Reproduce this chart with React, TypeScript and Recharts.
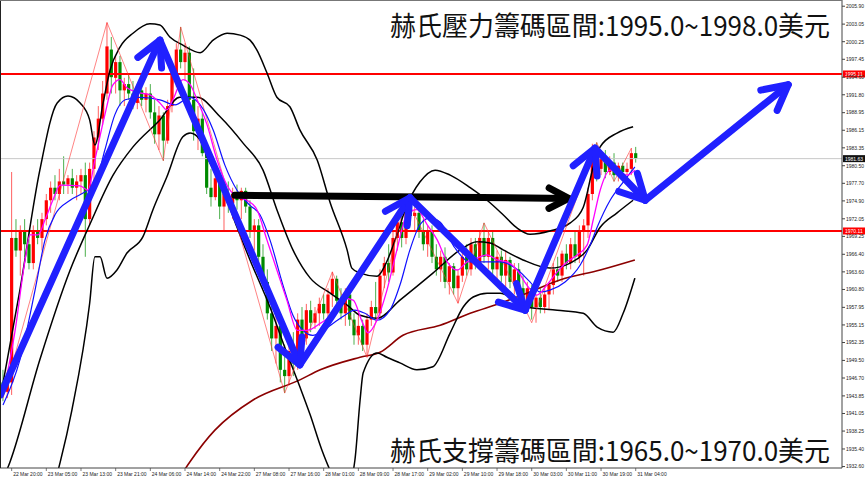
import React from "react"
import { ComposedChart, Bar, Line, XAxis, YAxis, ReferenceLine } from "recharts"

// H1 candles, one row per bar: [open, high, low, close]
const candles: number[][] = [
  [1946, 1948, 1943, 1944.5], [1944.5, 1948, 1943.5, 1946], [1946, 1979.5, 1944, 1969], [1969, 1972, 1966, 1967],
  [1967, 1971, 1963, 1970], [1970, 1972, 1966, 1968], [1968, 1970, 1964, 1965], [1965, 1971, 1964, 1970],
  [1970, 1972, 1968, 1969], [1969, 1973, 1967, 1972], [1972, 1976, 1971, 1975], [1975, 1978, 1973, 1977],
  [1977, 1979, 1975, 1976], [1976, 1980, 1975, 1978], [1978, 1982, 1976, 1977.5], [1977.5, 1979, 1976, 1978.5],
  [1978.5, 1980, 1976, 1977], [1977, 1979, 1975, 1978], [1978, 1980, 1976, 1979], [1979, 1981, 1966, 1972],
  [1972, 1981, 1971, 1980], [1980, 1986, 1978, 1985], [1985, 1990, 1983, 1988], [1988, 1994, 1987, 1992],
  [1992, 2003.3, 1991, 1999.5], [1999, 2001, 1992, 1994.6], [1994.5, 1998, 1992, 1997], [1997, 1998, 1990, 1992.5],
  [1992.5, 1994.5, 1990, 1993.5], [1993.5, 1995, 1991, 1992], [1992, 1994, 1989.5, 1990.5], [1990.5, 1993.5, 1989.5, 1992.5],
  [1992.5, 1994, 1990, 1991], [1991, 1993, 1989, 1992], [1992, 1993.5, 1988, 1989], [1989, 1991, 1984, 1985.5],
  [1985.5, 1990, 1983, 1988.5], [1988.5, 1989, 1981.3, 1984.5], [1984.5, 1991, 1984, 1990], [1990, 1996, 1989, 1995],
  [1995, 2000, 1993, 1999], [1999, 2002.6, 1996, 1997], [1997, 2000, 1994, 1998.5], [1998.5, 1999.5, 1990, 1991],
  [1991, 1996, 1984.5, 1986], [1986, 1990, 1983, 1988], [1988, 1989, 1982, 1982.5], [1982.5, 1984, 1976, 1977],
  [1977, 1980, 1974, 1975.5], [1975.5, 1979, 1975, 1978.5], [1978.5, 1979, 1972, 1974], [1974, 1977, 1970, 1976],
  [1976, 1978, 1973, 1974.5], [1974.5, 1977, 1972, 1976], [1976, 1977.5, 1973.5, 1975], [1975, 1977, 1972, 1976.5],
  [1976.5, 1977, 1973, 1974], [1974, 1975, 1969, 1970], [1970, 1972, 1967, 1971], [1971, 1972, 1965, 1966],
  [1966, 1968, 1961, 1962], [1962, 1964, 1956, 1957], [1957, 1959, 1951, 1953], [1953, 1957, 1949, 1955],
  [1955, 1956, 1946, 1948], [1948, 1952, 1944.3, 1947], [1947, 1953, 1945.5, 1951], [1951, 1954, 1947, 1949],
  [1949, 1957, 1948, 1956], [1956, 1958, 1952, 1953], [1953, 1958.5, 1952, 1957.5], [1957.5, 1959, 1954, 1955.5],
  [1955.5, 1958, 1954.5, 1957], [1957, 1959.5, 1955, 1958.5], [1958.5, 1960, 1956, 1957], [1957, 1961, 1956, 1960],
  [1960, 1963.6, 1958, 1962.5], [1962.5, 1963, 1958, 1959], [1959, 1961, 1956, 1957], [1957, 1961, 1955, 1960],
  [1960, 1961, 1955, 1956], [1956, 1957, 1952, 1953.5], [1953.5, 1957, 1952, 1955], [1955, 1956, 1951, 1952],
  [1952, 1957, 1950, 1956], [1956, 1959, 1955, 1958], [1958, 1962, 1956, 1957], [1957, 1964, 1956, 1963],
  [1963, 1966, 1961, 1965], [1965, 1968, 1962, 1963.5], [1963.5, 1970, 1963, 1969], [1969, 1973, 1967, 1971.5],
  [1971.5, 1972.5, 1967.5, 1969], [1969, 1975.5, 1968, 1974], [1974, 1975, 1971, 1972.5], [1972.5, 1974, 1970, 1973],
  [1973, 1973.5, 1969, 1970], [1970, 1972, 1967, 1968], [1968, 1971, 1966, 1970], [1970, 1971, 1965, 1966],
  [1966, 1968, 1963, 1964], [1964, 1967, 1962, 1966], [1966, 1967.5, 1961, 1962], [1962, 1965, 1960, 1964.5],
  [1964.5, 1965, 1960, 1961], [1961, 1964, 1958.6, 1963], [1963, 1967, 1962, 1966], [1966, 1968, 1963, 1964],
  [1964, 1969, 1963, 1968], [1968, 1969, 1964, 1965], [1965, 1970, 1964, 1969], [1969, 1971.4, 1965, 1966],
  [1966, 1970, 1964, 1969], [1969, 1970, 1963, 1964], [1964, 1967, 1962, 1966], [1966, 1967, 1962, 1963],
  [1963, 1967, 1961, 1965.5], [1965.5, 1966, 1961, 1962], [1962, 1965, 1960, 1964], [1964, 1965, 1960, 1961],
  [1961, 1963, 1958, 1959], [1959, 1962, 1958, 1961], [1961, 1961.5, 1956, 1958], [1958, 1960, 1955.5, 1959.5],
  [1959.5, 1961, 1957, 1958], [1958, 1961, 1957, 1960], [1960, 1962, 1957.5, 1961.5], [1961.5, 1965, 1960, 1964],
  [1964, 1966, 1962, 1963], [1963, 1967, 1962, 1966.5], [1966.5, 1968, 1964, 1965], [1965, 1969, 1964, 1968],
  [1968, 1970, 1965, 1966], [1966, 1971, 1965, 1970], [1970, 1972, 1963, 1971], [1971, 1977, 1969, 1976],
  [1976, 1984, 1975, 1983], [1983, 1984.2, 1978, 1980], [1980, 1983, 1979, 1982], [1982, 1983, 1978.5, 1979.5],
  [1979.5, 1982, 1979, 1981], [1981, 1982.5, 1978, 1979], [1979, 1981, 1978, 1980.5], [1980.5, 1981, 1978.5, 1979.5],
  [1979.5, 1981, 1979, 1980], [1980, 1983.3, 1979, 1982.5], [1982.5, 1983.5, 1981, 1981.7],
]

// bar index / value pairs
const upperBand = [
  [-0.7, 1943.2], [3.9, 1960.7], [8.5, 1979.8], [12.5, 1990.5], [15, 1991.6], [17.8, 1990.5], [20, 1987.8],
  [21.2, 1983.8], [23.1, 1990.5], [24.7, 1995.7], [27, 1999.4], [30, 2001.6], [33.9, 2003.1], [36.2, 2002.9],
  [38.5, 2001.0], [41.5, 1999.7], [45.5, 1998.5], [48.5, 2000.5], [51.7, 2001.6], [54.7, 2001.3], [57, 2000.5],
  [58.6, 1998.9], [60.9, 1995.3], [63.2, 1991.4], [66.2, 1989.9], [68.5, 1986.2], [72.5, 1981.4], [75.5, 1974.6],
  [79.4, 1967.1], [80.5, 1964.2], [82.4, 1963.4], [86.3, 1962.9], [88.2, 1964.7], [90.5, 1968.7], [93.2, 1974.2],
  [96.2, 1977.9], [99.7, 1979.8], [103.2, 1979.0], [107.8, 1977.0], [111.7, 1975.0], [115.4, 1972.7],
  [118.6, 1970.6], [121.6, 1969.6], [126.2, 1970.1], [130.9, 1971.4], [133.9, 1973.9], [136.2, 1980.3],
  [137.8, 1983.5], [141.7, 1985.7], [145.4, 1986.7],
]
const middleBand = [
  [-0.7, 1929.5], [1.6, 1933.3], [8.5, 1949.6], [15.5, 1963.9], [20, 1971.1], [25.4, 1979.0], [30, 1983.5],
  [36.2, 1987.8], [40.8, 1991.4], [44.8, 1991.4], [50.1, 1988.3], [55.4, 1984.1], [60, 1979.8], [63.2, 1973.5],
  [66.9, 1967.1], [70.9, 1962.6], [75.5, 1960.2], [79.4, 1958.3], [82.4, 1956.7], [86.3, 1956.2], [91.6, 1959.1],
  [99.2, 1963.4], [105.5, 1967.1], [109.4, 1968.4], [112.4, 1968.2], [115.4, 1967.1], [120, 1965.5],
  [126.2, 1964.2], [130.9, 1965.0], [134.8, 1967.1], [137.8, 1970.7], [141.7, 1973.0], [145.4, 1975.0],
]
const lowerBand = [
  [9.7, 1925], [13.2, 1933.3], [15.9, 1941.6], [20, 1958.6], [21.2, 1966.0], [22.4, 1966.0], [24, 1962.6],
  [26.3, 1963.9], [28.6, 1966.6], [32.3, 1969.2], [34.6, 1973.5], [37.8, 1978.7], [41.5, 1985.1], [43.2, 1985.7],
  [45.5, 1984.6], [47.1, 1981.9], [49.4, 1978.7], [51.7, 1975.0], [54, 1970.7], [57, 1965.5], [61.6, 1958.0],
  [65.5, 1950.7], [68.5, 1945.3], [70.9, 1940.8], [73.6, 1935.2], [76.6, 1930.5], [79.4, 1928.9], [81.2, 1933.6],
  [82.4, 1943.2], [83.1, 1947.5], [86.3, 1950.7], [88.6, 1950.0], [91.6, 1949.1], [95.5, 1948.0], [99.2, 1948.5],
  [103.2, 1953.9], [106.2, 1958.0], [108.5, 1959.6], [111.7, 1960.2], [114.7, 1960.2], [120.9, 1958.0],
  [127.9, 1957.5], [133.9, 1957.0], [137.1, 1954.8], [140.8, 1954.0], [143.1, 1957.0], [145.8, 1962.6],
]
const maFast = [
  [0, 1944.0], [2.8, 1954.3], [5.1, 1965.5], [6.2, 1969.5], [8.1, 1969.5], [9.7, 1971.9], [11.5, 1975.0],
  [13.2, 1977.4], [17.8, 1977.3], [19.6, 1976.6], [21.2, 1981.4], [23.5, 1988.6], [25.4, 1993.4], [27, 1994.2],
  [28.6, 1992.9], [31.6, 1992.1], [33.9, 1991.8], [36.2, 1990.5], [37.8, 1989.4], [39.2, 1991.0], [41.5, 1994.2],
  [43.2, 1993.4], [44.8, 1991.0], [47.1, 1987.0], [49.4, 1981.4], [51.7, 1977.4], [54, 1975.5], [56.3, 1975.0],
  [58.6, 1973.5], [60.9, 1968.7], [63.2, 1963.9], [65.5, 1959.1], [67.9, 1954.3], [70.2, 1954.3], [73.2, 1955.4],
  [76.2, 1957.0], [78.5, 1959.4], [80.8, 1959.1], [82.9, 1955.6], [84.2, 1953.9], [86.3, 1955.9], [88.6, 1960.7],
  [90.9, 1967.1], [93.2, 1972.7], [95.5, 1973.5], [97.9, 1971.1], [100.2, 1968.7], [102.5, 1965.2],
  [104.8, 1963.9], [107.1, 1965.2], [109.4, 1965.8], [111.7, 1966.3], [114, 1965.5], [116.3, 1965.2],
  [118.6, 1963.9], [120.9, 1961.5], [123.2, 1959.9], [125.5, 1961.5], [127.9, 1963.6], [130.2, 1965.2],
  [132.5, 1966.3], [134.8, 1967.9], [136.2, 1971.9], [137.8, 1976.6], [140.1, 1979.8], [142.4, 1979.5],
  [144, 1979.0], [145.8, 1979.8],
]
const maSlow = [
  [0, 1942.4], [3.9, 1949.6], [7.4, 1960.7], [9.7, 1968.7], [12, 1972.7], [15.5, 1975.0], [18.9, 1976.3],
  [21.2, 1977.4], [23.5, 1983.0], [25.8, 1988.6], [28.2, 1991.0], [31.6, 1991.4], [36.2, 1991.0], [39.7, 1990.2],
  [43.2, 1991.4], [45.5, 1990.2], [48.5, 1986.2], [51.2, 1980.6], [54, 1976.6], [57, 1974.2], [59.3, 1972.7],
  [61.6, 1968.7], [64.6, 1961.5], [66.9, 1956.7], [69.2, 1954.3], [71.5, 1953.5], [73.9, 1954.3], [76.6, 1955.6],
  [78.9, 1956.7], [81.2, 1957.5], [83.5, 1957.0], [86.3, 1955.9], [89.3, 1957.5], [91.6, 1961.5], [93.9, 1967.1],
  [96.2, 1971.1], [98.5, 1972.2], [100.9, 1971.5], [104.3, 1967.4], [107.8, 1965.2], [111.2, 1965.2],
  [114.7, 1965.2], [118.2, 1964.2], [121.6, 1962.0], [123.9, 1960.4], [126.2, 1960.7], [129.7, 1962.0],
  [133.2, 1964.7], [135.5, 1967.9], [137.1, 1970.7], [140.1, 1975.0], [142.9, 1977.7], [145.8, 1980.3],
]
const maLong = [
  [37.4, 1927.3], [48.9, 1938.4], [57.7, 1943.2], [68.5, 1946.4], [73.2, 1948.0], [82.4, 1950.0], [87, 1950.8],
  [92.3, 1953.5], [100.9, 1955.1], [107.8, 1957.0], [114.7, 1958.6], [121.6, 1960.4], [128.5, 1962.3],
  [137.8, 1963.9], [145.8, 1965.5],
]
const zigzag = [
  [0, 1943.5], [24, 2003.3], [37, 1981.3], [41, 2002.6], [65, 1944.3], [76, 1963.6], [84, 1950], [93, 1975.5],
  [105, 1958.6], [111, 1971.4], [122, 1955.5], [137, 1984.2], [141, 1978], [145, 1983.3],
]

// hand-drawn annotations
const blueArrowPath = [
  [-0.6, 1944.0], [36.2, 2000.5], [68.5, 1948.8], [93.9, 1975.4], [120.5, 1957.5], [136.6, 1983.3],
  [148.2, 1975.0], [181.2, 1993.4],
]
const blackArrow = [[53.5, 1975.8], [130.5, 1975.3]]

const resistance = 1995.11
const support = 1970.11
const lastPrice = 1981.63

const timeLabels = [
  "22 Mar 20:00", "23 Mar 05:00", "23 Mar 13:00", "23 Mar 21:00", "24 Mar 06:00", "24 Mar 14:00", "24 Mar 22:00",
  "27 Mar 08:00", "27 Mar 16:00", "28 Mar 01:00", "28 Mar 09:00", "28 Mar 17:00", "29 Mar 02:00", "29 Mar 10:00",
  "29 Mar 18:00", "30 Mar 03:00", "30 Mar 11:00", "30 Mar 19:00", "31 Mar 04:00",
]
const timeTickIdx = [2, 10, 18, 26, 34, 42, 50, 58, 66, 74, 82, 90, 98, 106, 114, 122, 130, 138, 146]
const priceTicks = [
  2005.9, 2003.05, 2000.25, 1997.45, 1994.6, 1991.8, 1988.95, 1986.15, 1983.35, 1980.5, 1977.7, 1974.9, 1972.05,
  1969.25, 1966.4, 1963.6, 1960.8, 1957.95, 1955.15, 1952.35, 1949.5, 1946.7, 1943.85, 1941.05, 1938.25,
  1935.4, 1932.6,
]

const candleData = candles.map(([o, h, l, c], i) => ({ i, o, h, l, c }))
const rows = (pts: number[][]) => pts.map(([i, v]) => ({ i, v }))

const AXIS_FONT = "'Liberation Sans', Arial, sans-serif"

const Candle = (props: any) => {
  const { x, y, width, height, payload } = props
  if (x == null || y == null) return null
  const top = Math.min(y, y + height)
  const span = Math.abs(height)
  const { o, h, l, c } = payload
  const py = (v: number) => (h === l ? top : top + ((h - v) / (h - l)) * span)
  const up = c >= o
  const body = up ? "#ff0000" : "#008a00"
  const wick = up ? "#ff6060" : "#4caf4c"
  const cx = x + width / 2
  const b1 = Math.min(py(o), py(c))
  const bh = Math.max(1.2, Math.abs(py(o) - py(c)))
  return (
    <g>
      <line x1={cx} y1={top} x2={cx} y2={top + span} stroke={wick} strokeWidth={1} />
      <rect x={cx - 1.6} y={b1} width={3.2} height={bh} fill={body} />
    </g>
  )
}

function arrowShape(color: string, w: number, head: number) {
  return (p: any) => {
    const { x1, y1, x2, y2 } = p
    const a = Math.atan2(y2 - y1, x2 - x1)
    const s = Math.PI / 6.5
    const ax = x2 - head * Math.cos(a - s)
    const ay = y2 - head * Math.sin(a - s)
    const bx = x2 - head * Math.cos(a + s)
    const by = y2 - head * Math.sin(a + s)
    return (
      <g>
        <line x1={x1} y1={y1} x2={x2} y2={y2} stroke={color} strokeWidth={w} strokeLinecap="round" />
        <polyline points={`${ax},${ay} ${x2},${y2} ${bx},${by}`} fill="none" stroke={color}
          strokeWidth={w} strokeLinecap="round" strokeLinejoin="round" />
      </g>
    )
  }
}

function priceTag(text: string, bg: string) {
  return (p: any) => {
    const vb = p.viewBox || {}
    const x = (vb.x || 0) + (vb.width || 0) + 1
    const y = vb.y || 0
    return (
      <g>
        <rect x={x} y={y - 3.5} width={22} height={7} fill={bg} />
        <text x={x + 2} y={y + 2} fill="#ffffff" fontSize={5} fontFamily={AXIS_FONT}>{text}</text>
      </g>
    )
  }
}

const TimeTick = (props: any) => {
  const { x, y, payload } = props
  const k = timeTickIdx.indexOf(payload.value)
  return (
    <g>
      <line x1={x} y1={y - 3} x2={x} y2={y} stroke="#444" strokeWidth={0.7} />
      <text x={x + 1.5} y={y + 4.5} fontSize={5} fill="#222" fontFamily={AXIS_FONT}>{timeLabels[k]}</text>
    </g>
  )
}

const PriceTick = (props: any) => {
  const { x, y, payload } = props
  return (
    <text x={x} y={y + 1.8} fontSize={5} fill="#222" fontFamily={AXIS_FONT}>{payload.value.toFixed(2)}</text>
  )
}

export default function App() {
  const blueArrowShape = arrowShape("#2020ff", 7, 28)
  const blackArrowShape = arrowShape("#000000", 7, 22)
  return (
    <div style={{ position: "absolute", left: 0, top: 0, width: 865, height: 479, background: "#fff", overflow: "hidden" }}>
      <ComposedChart width={865} height={479} margin={{ top: 0, right: 0, bottom: 0, left: 0 }} data={candleData}>
        <XAxis
          dataKey="i"
          type="number"
          domain={[-0.69, 193.6]}
          allowDataOverflow
          ticks={timeTickIdx}
          interval={0}
          height={11}
          tickSize={3}
          tickMargin={0}
          tickLine={false}
          axisLine={{ stroke: "#444" }}
          tick={<TimeTick />}
        />
        <YAxis
          orientation="right"
          type="number"
          domain={[1932.37, 2006.89]}
          allowDataOverflow
          ticks={priceTicks}
          interval={0}
          width={23}
          tickSize={3}
          tickMargin={1}
          tickLine={{ stroke: "#444" }}
          axisLine={{ stroke: "#444" }}
          tick={<PriceTick />}
        />
        <ReferenceLine y={lastPrice} stroke="#c8c8c8" strokeWidth={1} label={priceTag("1981.63", "#111111")} />
        <ReferenceLine y={resistance} stroke="#ff0000" strokeWidth={2} label={priceTag("1995.11", "#ff0000")} />
        <ReferenceLine y={support} stroke="#ff0000" strokeWidth={2} label={priceTag("1970.11", "#ff0000")} />

        <Line data={rows(maLong)} dataKey="v" type="monotone" stroke="#8b0000" strokeWidth={1.6} dot={false} isAnimationActive={false} />
        <Line data={rows(upperBand)} dataKey="v" type="monotone" stroke="#000" strokeWidth={1.5} dot={false} isAnimationActive={false} />
        <Line data={rows(middleBand)} dataKey="v" type="monotone" stroke="#000" strokeWidth={1.5} dot={false} isAnimationActive={false} />
        <Line data={rows(lowerBand)} dataKey="v" type="monotone" stroke="#000" strokeWidth={1.5} dot={false} isAnimationActive={false} />
        <Bar dataKey={(d: any) => [d.l, d.h]} barSize={3} shape={<Candle />} isAnimationActive={false} />
        <Line data={rows(zigzag)} dataKey="v" type="linear" stroke="#ff3030" strokeOpacity={0.75} strokeWidth={0.8} dot={false} isAnimationActive={false} />
        <Line data={rows(maSlow)} dataKey="v" type="monotone" stroke="#1010ff" strokeWidth={1.2} dot={false} isAnimationActive={false} />
        <Line data={rows(maFast)} dataKey="v" type="monotone" stroke="#ff00ff" strokeWidth={1.3} dot={false} isAnimationActive={false} />

        <ReferenceLine
          segment={[{ x: blackArrow[0][0], y: blackArrow[0][1] }, { x: blackArrow[1][0], y: blackArrow[1][1] }]}
          ifOverflow="visible"
          shape={blackArrowShape}
        />
        {blueArrowPath.slice(1).map((pt, k) => (
          <ReferenceLine
            key={k}
            segment={[{ x: blueArrowPath[k][0], y: blueArrowPath[k][1] }, { x: pt[0], y: pt[1] }]}
            ifOverflow="visible"
            shape={blueArrowShape}
          />
        ))}
      </ComposedChart>
      <div style={{ position: "absolute", left: 0, top: 0, width: 1, height: 468, background: "#222" }} />
      <div style={{ position: "absolute", left: 0, top: 0, width: 842, height: 1, background: "#777" }} />
      <svg width={865} height={479} style={{ position: "absolute", left: 0, top: 0, pointerEvents: "none" }}>
        <text x={390} y={36} fontSize={27} fill="#111" fontFamily="'Noto Sans CJK TC', sans-serif"
          textLength={440} lengthAdjust="spacingAndGlyphs">赫氏壓力籌碼區間:1995.0~1998.0美元</text>
        <text x={390} y={461} fontSize={27} fill="#111" fontFamily="'Noto Sans CJK TC', sans-serif"
          textLength={440} lengthAdjust="spacingAndGlyphs">赫氏支撐籌碼區間:1965.0~1970.0美元</text>
      </svg>
    </div>
  )
}
